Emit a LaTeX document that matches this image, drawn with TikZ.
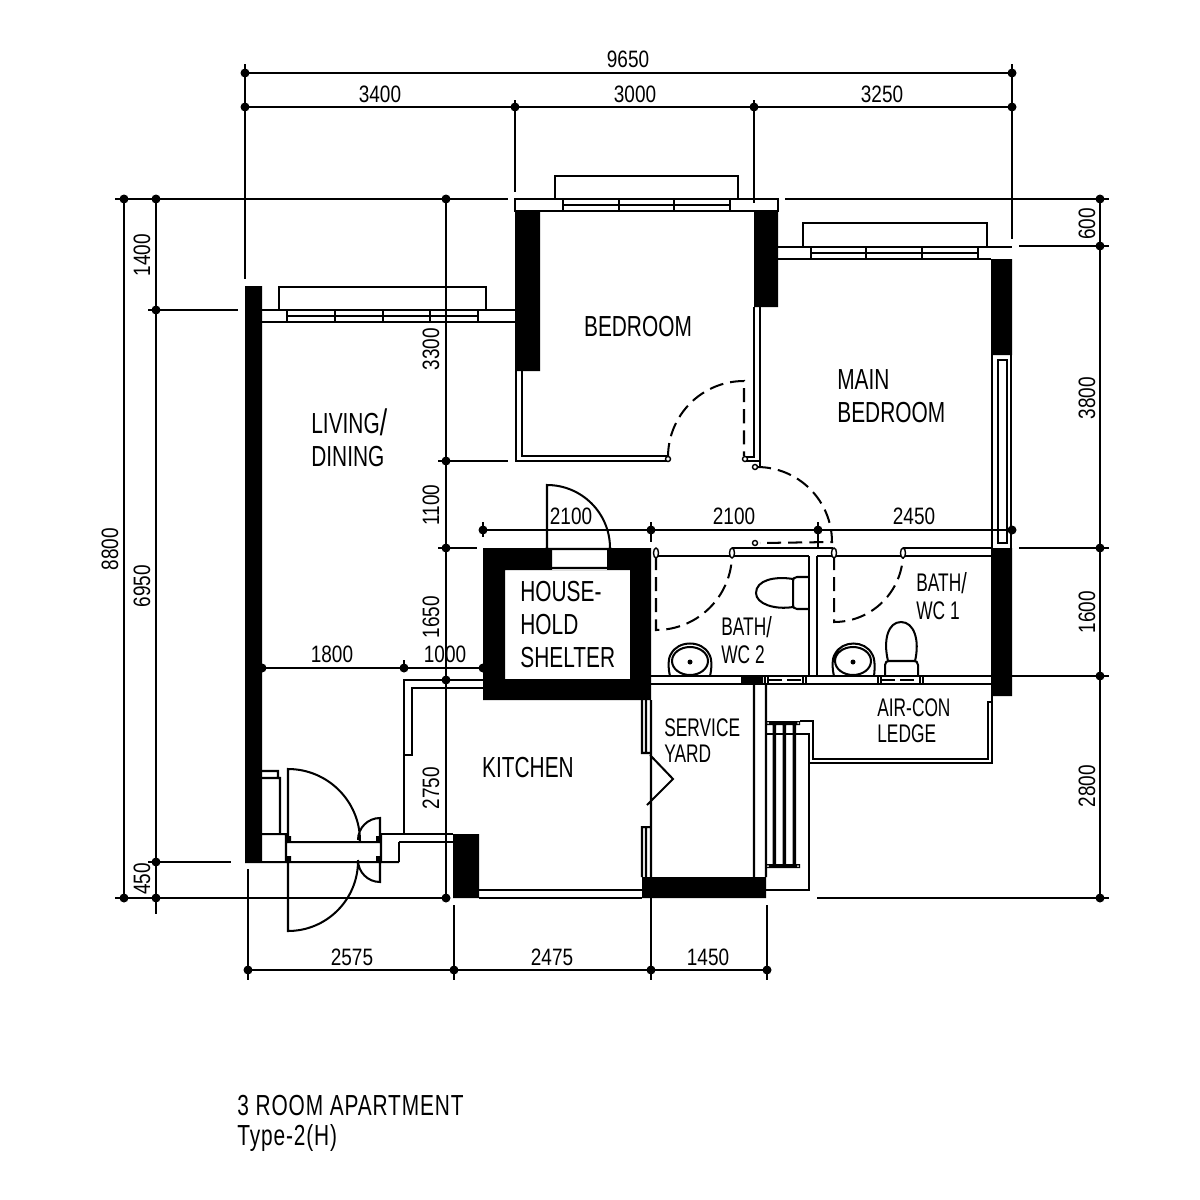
\documentclass[tikz,border=0pt]{standalone}
\usepackage{fontspec}
\setmainfont[FakeStretch=0.72]{Liberation Sans}
\newfontfamily\dimfont[FakeStretch=0.8]{Liberation Sans}
\newfontfamily\smallfont[FakeStretch=0.68]{Liberation Sans}
\newfontfamily\titlefont[FakeStretch=0.72,LetterSpace=3]{Liberation Sans}
\newcommand{\bigslash}[1]{\smash{\raisebox{-1pt}{\fontsize{#1}{#1}\selectfont/}}}
\tikzset{
    plan/.style={line width=1.15pt, line join=miter},
    doorswing/.style={line width=1.15pt, dash pattern=on 8pt off 4pt},
    roomtext/.style={font=\fontsize{16.5}{20}\selectfont, inner sep=0pt},
    smalltext/.style={font=\smallfont\fontsize{14.5}{18}\selectfont, inner sep=0pt},
    titletext/.style={font=\titlefont\fontsize{16.5}{20}\selectfont, inner sep=0pt},
    dimtext/.style={font=\dimfont\fontsize{13.5}{16}\selectfont, inner sep=0pt},
    dimup/.style={dimtext, rotate=90},
}
\begin{document}
\begin{tikzpicture}[x=0.02cm, y=-0.02cm]

    \useasboundingbox (0,0) rectangle (1200,1200);

    \def\rd{4.5}        % Radius of the dimension dots

    % Solid walls
    \fill
        (245,286) rectangle (262,862)
        (515,211) rectangle (540,371)
        (754,211) rectangle (778,307)
        (991,259) rectangle (1012,355)
        (991,548) rectangle (1012,696)
        (453,834) rectangle (479,898)
        (642,877) rectangle (766,898)
        (741,676) rectangle (763,684)
    ;
    \fill[even odd rule]
        (483,548) -- (552,548) -- (552,570) -- (607,570) -- (607,548) -- (651,548) -- (651,700) -- (483,700) -- cycle
        (505,570) rectangle (630,679)       % Inside of the shelter
    ;

    % Dimension lines, top and bottom
    \draw[plan]
        (245,64) -- (245,279)
        (1012,64) -- (1012,239)
        (515,100) -- (515,192)
        (754,100) -- (754,203)
        (245,73) -- (1012,73)
        (245,107) -- (1012,107)
        (483,522) -- (483,537)
        (651,522) -- (651,542)
        (818,522) -- (818,548)
        (483,530) -- (1012,530)
        (248,869) -- (248,980)
        (454,905) -- (454,980)
        (651,898) -- (651,980)
        (767,905) -- (767,980)
        (248,970) -- (767,970)
    ;

    % Dimension lines, left and right
    \draw[plan]
        (115,199) -- (508,199)
        (785,199) -- (1109,199)
        (1019,246) -- (1109,246)
        (148,310) -- (238,310)
        (438,461) -- (508,461)
        (438,548) -- (477,548)
        (1019,548) -- (1109,548)
        (1000,676) -- (1109,676)
        (262,668) -- (483,668)
        (148,862) -- (231,862)
        (115,898) -- (446,898)
        (817,898) -- (1109,898)
        (124,199) -- (124,898)
        (156,199) -- (156,914)
        (446,199) -- (446,898)
        (1100,199) -- (1100,898)
        (404,660) -- (404,668)
    ;

    % Dimension dots
    \fill
        (245,73) circle (\rd) (1012,73) circle (\rd)
        (245,107) circle (\rd) (515,107) circle (\rd) (754,107) circle (\rd) (1012,107) circle (\rd)
        (124,199) circle (\rd) (156,199) circle (\rd) (446,199) circle (\rd) (1100,199) circle (\rd)
        (1100,246) circle (\rd) (156,310) circle (\rd) (446,461) circle (\rd)
        (446,548) circle (\rd) (1100,548) circle (\rd) (1100,676) circle (\rd)
        (483,530) circle (\rd) (651,530) circle (\rd) (818,530) circle (\rd) (1012,530) circle (\rd)
        (262,668) circle (\rd) (404,668) circle (\rd) (483,668) circle (\rd) (446,680) circle (\rd)
        (156,862) circle (\rd) (124,898) circle (\rd) (156,898) circle (\rd) (446,898) circle (\rd) (1100,898) circle (\rd)
        (248,970) circle (\rd) (454,970) circle (\rd) (651,970) circle (\rd) (767,970) circle (\rd)
    ;

    % Living room window and ledge
    \draw[plan]
        (262,310) -- (515,310)
        (262,322) -- (515,322)
        (287,316) -- (478,316)
        (287,310) -- (287,322) (335,310) -- (335,322) (383,310) -- (383,322) (430,310) -- (430,322) (478,310) -- (478,322)
        (279,310) -- (279,287) -- (486,287) -- (486,310)
    ;

    % Bedroom window, ledge and thin walls
    \draw[plan]
        (515,199) rectangle (778,211)
        (563,205) -- (730,205)
        (563,199) -- (563,211) (619,199) -- (619,211) (674,199) -- (674,211) (730,199) -- (730,211)
        (555,199) -- (555,176) -- (738,176) -- (738,199)
        (516,371) -- (516,461) -- (667,461)
        (522,371) -- (522,456) -- (667,456)
        (754,307) -- (754,457) -- (745,457)
        (760,307) -- (760,466)
        (746,461) -- (760,461)
    ;

    % Main bedroom window, ledge and side window
    \draw[plan]
        (778,247) -- (1012,247)
        (778,259) -- (991,259)
        (811,253) -- (978,253)
        (811,247) -- (811,259) (866,247) -- (866,259) (922,247) -- (922,259) (978,247) -- (978,259)
        (803,247) -- (803,223) -- (987,223) -- (987,247)
        (992,355) -- (992,548)
        (1011,355) -- (1011,548)
        (998,360) rectangle (1007,543)
    ;

    % Swings of the doors inside the flat
    \draw[doorswing]
        (668,457) arc (180:270:76) -- (744,456)
        (757,467) arc (270:360:75) -- (760,543)
        (656,556) -- (656,630) arc (90:0:76)
        (834,556) -- (834,622) arc (90:0:69)
    ;

    % Bathroom walls
    \draw[plan]
        (732,548) -- (833,548)
        (656,556) -- (809,556)
        (817,556) -- (833,556)
        (903,548) -- (991,548)
        (834,556) -- (991,556)
        (809,556) -- (809,676)
        (817,556) -- (817,676)
        (651,676) -- (991,676)
        (651,684) -- (991,684)
        (765,676) -- (765,684) (768,676) -- (768,684)
        (803,676) -- (803,684) (806,676) -- (806,684)
        (878,676) -- (878,684) (881,676) -- (881,684)
        (920,676) -- (920,684) (923,676) -- (923,684)
    ;
    \draw[plan, dash pattern=on 8pt off 3pt]
        (768,680) -- (803,680)
        (881,680) -- (920,680)
    ;

    % Door hinges
    \draw[plan, fill=white, line width=0.8pt]
        (668,459) circle (2.5)
        (745,459) circle (2.5)
        (755,467) circle (2.5)
        (755,543) circle (2.5)
        (656,553) ellipse (2.5 and 5)
        (732,553) ellipse (2.5 and 5)
        (834,553) ellipse (2.5 and 5)
        (903,553) ellipse (2.5 and 5)
    ;

    % Toilet and basin of bath 2
    \draw[plan]
        (809,577) -- (797,577) .. controls (794,577) and (793,579) .. (793,581) -- (793,605) .. controls (793,607) and (794,609) .. (797,609) -- (809,609)
        (793,579) .. controls (775,576) and (756,580) .. (756,593) .. controls (756,604) and (775,610) .. (793,607)
        (670,676) .. controls (668,668) and (668,658) .. (671,654) .. controls (678,640) and (702,640) .. (709,654) .. controls (712,658) and (712,668) .. (710,676)
        (690,661) ellipse (18 and 14)
    ;
    \fill (690,662) circle (2.5);

    % Toilet and basin of bath 1
    \draw[plan]
        (885,676) -- (885,665) .. controls (885,662) and (887,661) .. (889,661) -- (914,661) .. controls (916,661) and (918,662) .. (918,665) -- (918,676)
        (888,661) .. controls (883,640) and (888,622) .. (901,622) .. controls (914,622) and (920,640) .. (915,661)
        (834,676) .. controls (832,668) and (832,658) .. (835,654) .. controls (842,640) and (865,640) .. (872,654) .. controls (875,658) and (875,668) .. (874,676)
        (853,661) ellipse (18 and 14)
    ;
    \fill (853,662) circle (2.5);

    % Shelter door
    \draw[plan]
        (547,548) -- (547,485) arc (270:360:63)
        (545,549) -- (612,549)
        (552,568) -- (607,568)
    ;

    % Kitchen walls
    \draw[plan]
        (483,680) -- (404,680) -- (404,834)
        (483,688) -- (412,688) -- (412,755) -- (404,755)
        (381,834) -- (453,834)
        (399,842) -- (453,842)
        (399,842) -- (399,862)
        (479,890) -- (642,890)
        (479,898) -- (642,898)
    ;

    % Entrance, door threshold and meter cupboard
    \draw[plan]
        (245,862) -- (399,862)
        (262,834) -- (286,834) -- (286,862)
        (286,842) -- (381,842)
        (381,834) -- (381,862)
        (262,771) -- (278,771) -- (278,778)
        (262,778) -- (280,778) -- (280,834)
        (288,842) -- (288,769) arc (270:360:72)
        (288,862) -- (288,931) arc (90:0:70)
        (380,842) -- (380,818) arc (270:180:22)
        (380,862) -- (380,882) arc (90:180:22)
    ;
    \fill
        (286,836) rectangle (291,842)
        (286,856) rectangle (291,862)
        (376,836) rectangle (381,842)
        (376,856) rectangle (381,862)
    ;

    % Service yard
    \draw[plan]
        (651,700) -- (651,877)
        (642,700) -- (642,753) -- (651,753)
        (646,700) -- (646,753)
        (642,877) -- (642,827) -- (651,827)
        (646,877) -- (646,827)
        (650,755) -- (673,779) -- (647,805)
        (754,684) -- (754,877)
        (766,684) -- (766,877)
    ;

    % Clothes rack
    \fill
        (766,721) rectangle (800,725)
        (766,864) rectangle (800,868)
        (772.5,725) rectangle (776,864)
        (782.5,725) rectangle (786,864)
        (792.5,725) rectangle (796,864)
    ;
    \fill[white]
        (768,723) circle (1) (798,723) circle (1)
        (768,866) circle (1) (798,866) circle (1)
    ;

    % Air-con ledge
    \draw[plan]
        (800,721) -- (813,721) -- (813,759) -- (988,759) -- (988,702) -- (992,702)
        (766,734) -- (809,734) -- (809,890) -- (766,890)
        (809,763) -- (992,763) -- (992,696)
    ;

    % Room names
    \node[roomtext] (bedroom) at (638,327) {BEDROOM};
    \node[roomtext, anchor=west] (living) at (311,424) {LIVING\bigslash{21}};
    \node[roomtext, anchor=west] (dining) at (311,457) {DINING};
    \node[roomtext, anchor=west] (main) at (837,380) {MAIN};
    \node[roomtext, anchor=west] (mainbed) at (837,413) {BEDROOM};
    \node[roomtext, anchor=west] (house) at (520,592) {HOUSE-};
    \node[roomtext, anchor=west] (hold) at (520,625) {HOLD};
    \node[roomtext, anchor=west] (shelter) at (520,658) {SHELTER};
    \node[roomtext] (kitchen) at (528,768) {KITCHEN};
    \node[smalltext, anchor=west] (bathb) at (721,627) {BATH\bigslash{16.5}};
    \node[smalltext, anchor=west] (wcb) at (721,655) {WC 2};
    \node[smalltext, anchor=west] (batha) at (916,583) {BATH\bigslash{16.5}};
    \node[smalltext, anchor=west] (wca) at (916,611) {WC 1};
    \node[smalltext, anchor=west] (aircon) at (877,708) {AIR-CON};
    \node[smalltext, anchor=west] (ledge) at (877,734) {LEDGE};
    \node[smalltext, anchor=west] (service) at (664,728) {SERVICE};
    \node[smalltext, anchor=west] (yard) at (664,754) {YARD};

    % Dimension texts
    \node[dimtext] (topall) at (628,59) {9650};
    \node[dimtext] (topa) at (380,94) {3400};
    \node[dimtext] (topb) at (635,94) {3000};
    \node[dimtext] (topc) at (882,94) {3250};
    \node[dimtext] (mida) at (571,516) {2100};
    \node[dimtext] (midb) at (734,516) {2100};
    \node[dimtext] (midc) at (914,516) {2450};
    \node[dimtext] (lowa) at (332,654) {1800};
    \node[dimtext] (lowb) at (445,654) {1000};
    \node[dimtext] (bota) at (352,957) {2575};
    \node[dimtext] (botb) at (552,957) {2475};
    \node[dimtext] (botc) at (708,957) {1450};
    \node[dimup] (leftall) at (110,549) {8800};
    \node[dimup] (lefta) at (142,255) {1400};
    \node[dimup] (leftb) at (142,586) {6950};
    \node[dimup] (leftc) at (142,879) {450};
    \node[dimup] (inna) at (431,349) {3300};
    \node[dimup] (innb) at (431,505) {1100};
    \node[dimup] (innc) at (431,617) {1650};
    \node[dimup] (innd) at (431,788) {2750};
    \node[dimup] (righta) at (1087,224) {600};
    \node[dimup] (rightb) at (1087,398) {3800};
    \node[dimup] (rightc) at (1087,612) {1600};
    \node[dimup] (rightd) at (1087,786) {2800};

    % Title
    \node[titletext, anchor=west] (title) at (237,1106) {3 ROOM APARTMENT};
    \node[titletext, anchor=west] (type) at (237,1138) {Type-2(H)};

\end{tikzpicture}
\end{document}
